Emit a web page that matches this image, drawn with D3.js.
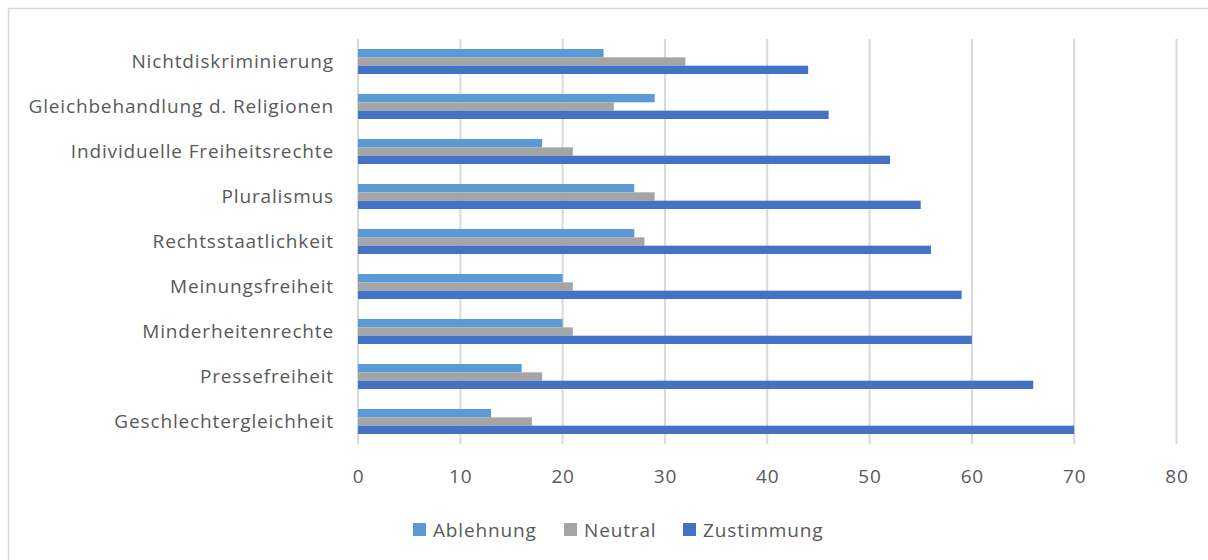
<!DOCTYPE html>
<html>
<head>
<meta charset="utf-8">
<script src="https://cdn.jsdelivr.net/npm/d3@7"></script>
<style>
  body { margin: 0; background: #fff; }
  text { font-family: "Open Sans", "Noto Sans", sans-serif; fill: #595959; letter-spacing: 0.85px; }
</style>
</head>
<body>
<svg id="chart" width="1208" height="560"></svg>
<script>
// categories, top to bottom
const categories = [
  'Nichtdiskriminierung',
  'Gleichbehandlung d. Religionen',
  'Individuelle Freiheitsrechte',
  'Pluralismus',
  'Rechtsstaatlichkeit',
  'Meinungsfreiheit',
  'Minderheitenrechte',
  'Pressefreiheit',
  'Geschlechtergleichheit'
];
const seriesNames = ['Ablehnung', 'Neutral', 'Zustimmung'];
const ablehnung = [24, 29, 18, 27, 27, 20, 20, 16, 13];
const neutral = [32, 25, 21, 29, 28, 21, 21, 18, 17];
const zustimmung = [44, 46, 52, 55, 56, 59, 60, 66, 70];
const xTicks = [0, 10, 20, 30, 40, 50, 60, 70, 80];

const colors = ['#5b9bd5', '#a5a5a5', '#4472c4'];
const values = [ablehnung, neutral, zustimmung];

const svg = d3.select('#chart');

// chart border
svg.append('rect')
  .attr('x', 8.5).attr('y', 8.5)
  .attr('width', 1220).attr('height', 600)
  .attr('fill', 'none')
  .attr('stroke', '#d9d9d9')
  .attr('stroke-width', 1.5);

const margin = { top: 39, left: 358 },
  graphWidth = 818.5,
  graphHeight = 405;

const graph = svg.append('g')
  .attr('transform', `translate(${margin.left}, ${margin.top})`);

const x = d3.scaleLinear().domain([0, 80]).range([0, graphWidth]);
const y = d3.scaleBand()
  .domain(categories)
  .range([0, graphHeight])
  .paddingInner(0.444)
  .paddingOuter(0.222);
const ySub = d3.scaleBand()
  .domain(seriesNames)
  .range([0, y.bandwidth()]);

// gridlines
graph.selectAll('line.grid')
  .data(xTicks)
  .enter()
  .append('line')
  .attr('class', 'grid')
  .attr('x1', d => x(d)).attr('x2', d => x(d))
  .attr('y1', 0).attr('y2', graphHeight)
  .attr('stroke', '#d9d9d9')
  .attr('stroke-width', 2);

// bars
const groups = graph.selectAll('g.cat')
  .data(categories)
  .enter()
  .append('g')
  .attr('transform', d => `translate(0, ${y(d)})`);

groups.selectAll('rect')
  .data((d, i) => seriesNames.map((s, j) => ({ s, v: values[j][i], c: colors[j] })))
  .enter()
  .append('rect')
  .attr('x', 0)
  .attr('y', d => ySub(d.s))
  .attr('width', d => x(d.v))
  .attr('height', ySub.bandwidth())
  .attr('fill', d => d.c);

// x axis
const xAxis = d3.axisBottom(x).tickValues(xTicks).tickSize(0).tickPadding(26);
const xAxisGroup = graph.append('g')
  .attr('transform', `translate(0, ${graphHeight})`)
  .call(xAxis);
xAxisGroup.select('.domain').remove();
xAxisGroup.selectAll('text')
  .style('font-size', '19px')
  .attr('fill', '#595959');

// y axis
const yAxis = d3.axisLeft(y).tickSize(0).tickPadding(24);
const yAxisGroup = graph.append('g').call(yAxis);
yAxisGroup.select('.domain').remove();
yAxisGroup.selectAll('text')
  .style('font-size', '19px')
  .attr('fill', '#595959');

// legend
const legendX = [413, 564, 683];
const legend = svg.append('g').attr('transform', 'translate(0, 523)');
seriesNames.forEach((s, i) => {
  legend.append('rect')
    .attr('x', legendX[i]).attr('y', 0)
    .attr('width', 13).attr('height', 13)
    .attr('fill', colors[i]);
  legend.append('text')
    .attr('x', legendX[i] + 20).attr('y', 7)
    .attr('dy', '0.35em')
    .style('font-size', '19px')
    .text(s);
});
</script>
</body>
</html>
